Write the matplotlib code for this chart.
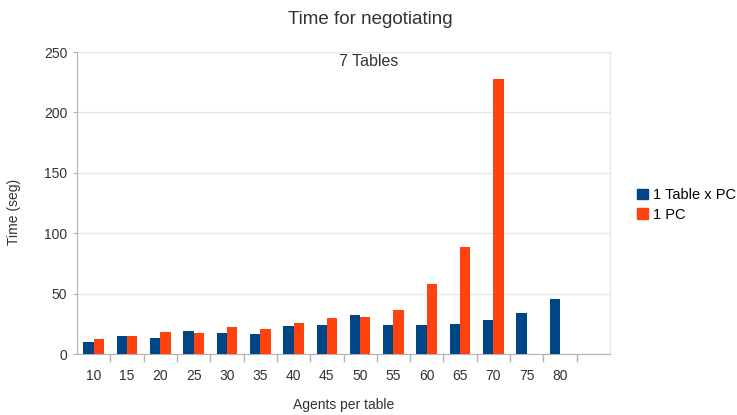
import numpy as np
import matplotlib
matplotlib.use('Agg')
import matplotlib.pyplot as plt
from matplotlib.patches import Patch

plt.rcParams['font.family'] = ['Liberation Sans', 'DejaVu Sans']

# categories (last slot is empty on the original chart)
agents = ['10', '15', '20', '25', '30', '35', '40', '45', '50',
          '55', '60', '65', '70', '75', '80', '']
table_x_pc = [10.2, 14.9, 13.3, 18.8, 17.7, 16.6, 22.9, 24.0, 32.2,
              23.6, 23.9, 25.0, 28.3, 33.6, 45.3, None]
one_pc = [12.4, 14.9, 18.0, 17.1, 22.1, 20.7, 25.4, 29.8, 30.3,
          36.1, 58.0, 88.9, 227.5, None, None, None]

BLUE = '#004586'
RED = '#ff420e'
GRID = '#e6e6e6'
AXIS = '#b3b3b3'
TXT = '#333333'

fig = plt.figure(figsize=(7.37, 4.15), dpi=100)
ax = fig.add_axes([77 / 737, 1 - 354 / 415, (610 - 77) / 737, (354 - 52) / 415])

x = np.arange(len(agents))
w = 0.31
b = np.array([np.nan if v is None else v for v in table_x_pc], dtype=float)
r = np.array([np.nan if v is None else v for v in one_pc], dtype=float)
ax.bar(x - w / 2, b, w, color=BLUE, zorder=3)
ax.bar(x + w / 2, r, w, color=RED, zorder=3)

ax.set_xlim(-0.5, len(agents) - 0.5)
ax.set_ylim(0, 250)
ax.set_yticks(range(0, 251, 50))
ax.set_xticks(x)
ax.set_xticklabels(agents)
ax.set_xticks(np.arange(0.5, len(agents) - 0.5, 1), minor=True)
ax.tick_params(axis='x', which='major', length=0, pad=11, labelsize=10, colors=TXT)
ax.tick_params(axis='x', which='minor', length=6, color=AXIS, width=1)
ax.tick_params(axis='y', length=3, color=AXIS, labelsize=10, labelcolor=TXT, pad=4)

ax.grid(axis='y', color=GRID, linewidth=1, zorder=0)
ax.spines['top'].set_visible(False)
for s in ['left', 'bottom']:
    ax.spines[s].set_color(AXIS)
ax.spines['right'].set_color(GRID)

ax.set_ylabel('Time (seg)', fontsize=10, color=TXT)
ax.yaxis.set_label_coords((21 - 77) / 533, 0.47)
ax.set_xlabel('Agents per table', fontsize=10, color=TXT)
ax.xaxis.set_label_coords(0.5, (354 - 398) / 302)
fig.text(369 / 737, 1 - 62 / 415, '7 Tables', ha='center', va='center',
         fontsize=11.5, color=TXT)
fig.text(370 / 737, 1 - 20 / 415, 'Time for negotiating', ha='center', va='center',
         fontsize=13.5, color=TXT)

handles = [Patch(color=BLUE, label='1 Table x PC'), Patch(color=RED, label='1 PC')]
fig.legend(handles=handles, loc='center left', bbox_to_anchor=(630 / 737, 1 - 205 / 415),
           frameon=False, fontsize=10.5, handlelength=0.7, handleheight=0.7,
           handletextpad=0.4, labelspacing=0.35, borderpad=0)

fig.savefig('out.png', dpi=100)
